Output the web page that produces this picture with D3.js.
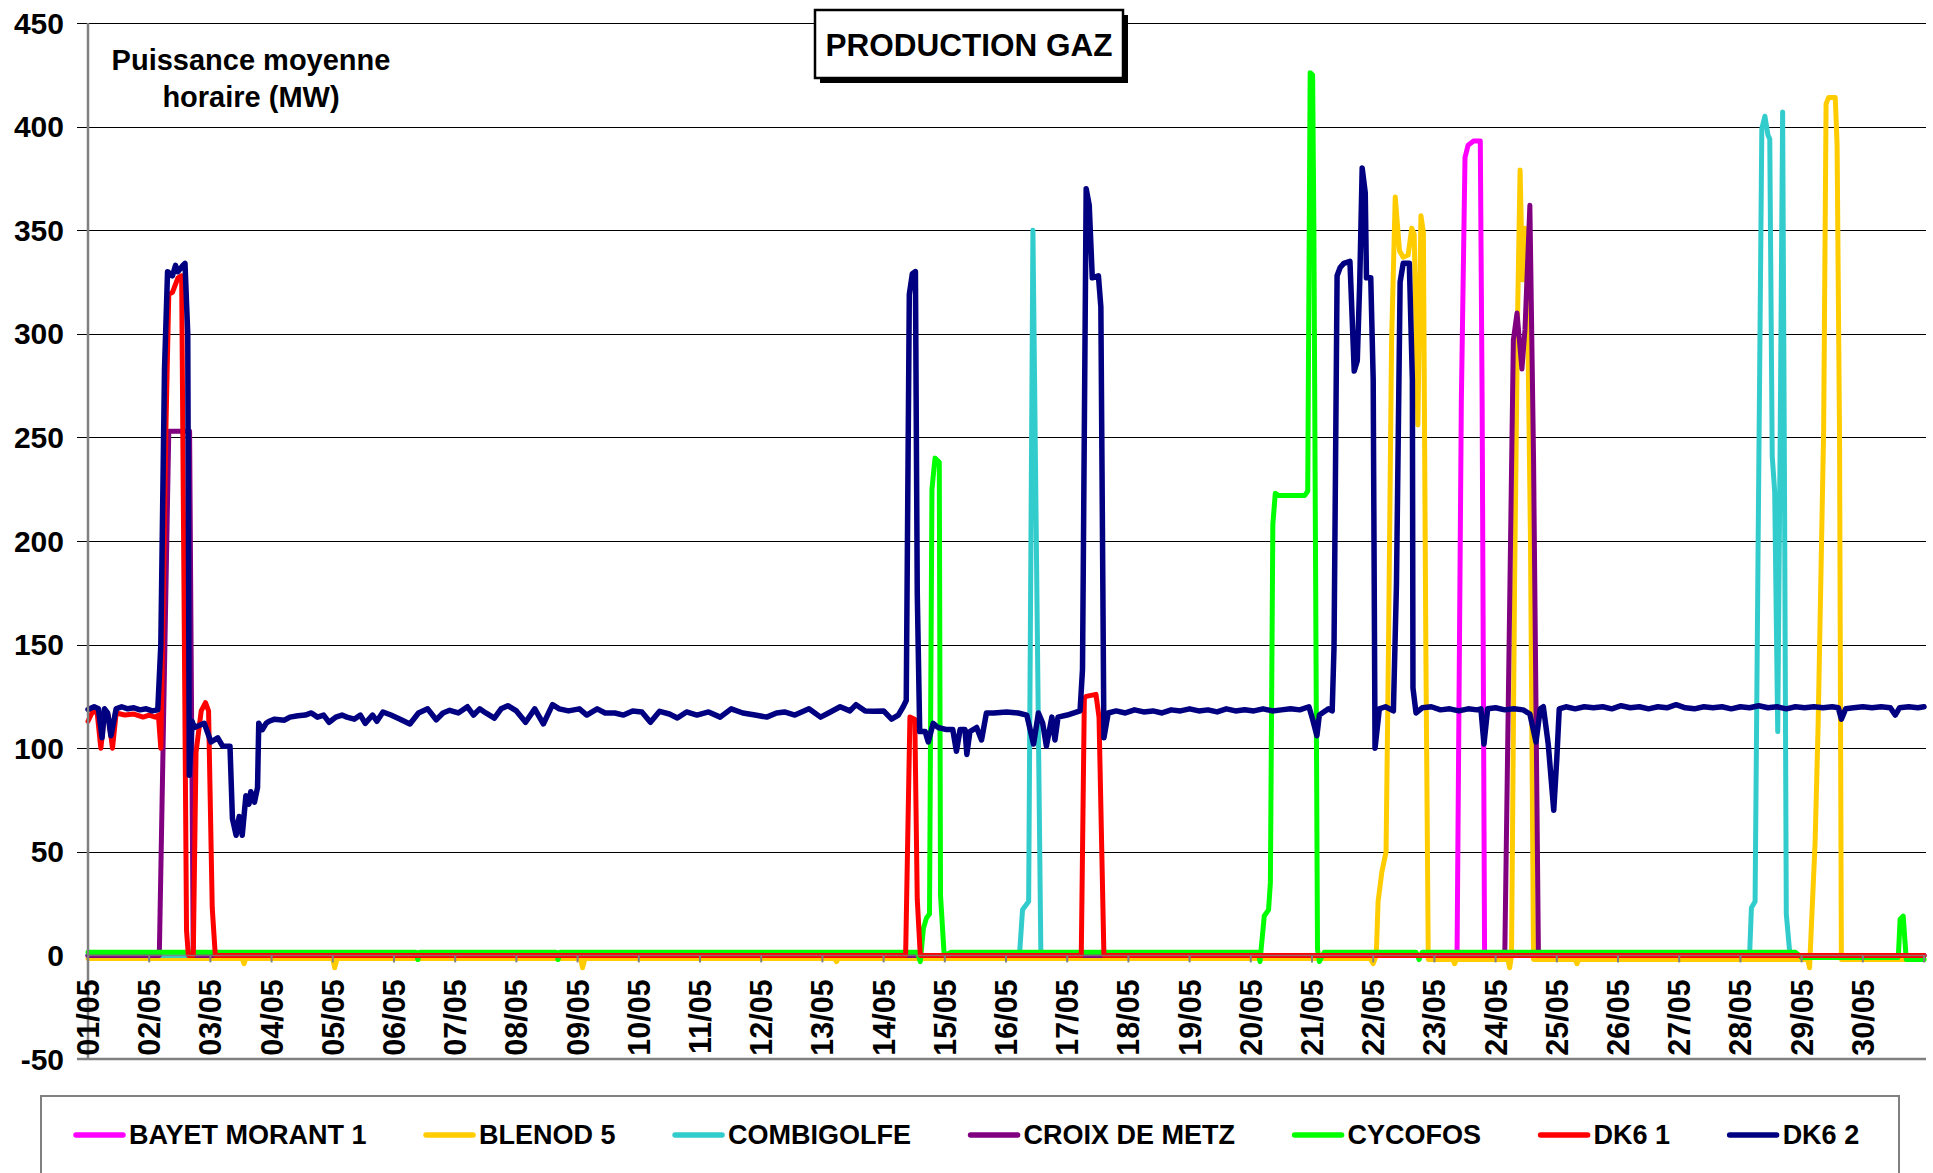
<!DOCTYPE html>
<html><head><meta charset="utf-8">
<script src="https://cdn.jsdelivr.net/npm/d3@7"></script>
<style>
html,body{margin:0;padding:0;background:#fff;}
svg{display:block;font-family:"Liberation Sans",Arial,Helvetica,sans-serif;font-weight:bold;}
</style>
</head><body>
<svg id="c" width="1933" height="1173"></svg>
<script>
// ---------- DATA (time in days since 01/05 00:00, value in MW) ----------
const dayLabels = ["01/05","02/05","03/05","04/05","05/05","06/05","07/05","08/05","09/05","10/05",
  "11/05","12/05","13/05","14/05","15/05","16/05","17/05","18/05","19/05","20/05",
  "21/05","22/05","23/05","24/05","25/05","26/05","27/05","28/05","29/05","30/05"];
const yTickValues = [-50,0,50,100,150,200,250,300,350,400,450];
const seriesNames = ["BAYET MORANT 1","BLENOD 5","COMBIGOLFE","CROIX DE METZ","CYCOFOS","DK6 1","DK6 2"];
const seriesColors = ["#FF00FF","#FFCC00","#33CCCC","#800080","#00FF00","#FF0000","#000080"];

const bayetMorant1 = [[0,0],[22.37,0],[22.44,267],[22.50,385],[22.55,391],[22.64,393],[22.75,393],[22.78,267],[22.82,0],[30,0]];

const blenod5 = [[0,-1.5],[2.52,-1.5],[2.55,-4],[2.58,-1.5],[4.0,-1.5],[4.03,-6],[4.07,-1.5],[8.05,-1.5],[8.08,-6],[8.12,-1.5],
  [12.2,-1.5],[12.23,-3],[12.26,-1.5],[20.95,-1.5],[21.0,-4],[21.05,0],[21.08,26],[21.14,40],[21.21,50],[21.25,149],[21.30,296],[21.36,366],
  [21.43,340],[21.49,337],[21.57,338],[21.63,351],[21.67,348],[21.73,256],[21.78,357],[21.82,349],[21.86,149],[21.90,-2],
  [22.3,-2],[22.33,-4],[22.36,-2],[23.2,-2],[23.23,-6],[23.26,0],[23.31,179],[23.36,310],[23.40,379],[23.44,326],[23.48,351],
  [23.52,318],[23.57,200],[23.62,-2],[24.3,-2],[24.33,-4],[24.36,-2],[28.1,-2],[28.13,-6],[28.22,54],[28.27,111],[28.36,253],
  [28.40,411],[28.44,414],[28.55,414],[28.58,391],[28.62,250],[28.65,-2],[30,-2]];

const combigolfe = [[0,0],[15.22,0],[15.27,22],[15.37,26],[15.44,350],[15.57,0],[27.15,0],[27.18,23],[27.24,26],[27.29,200],
  [27.35,399],[27.40,405],[27.45,396],[27.48,394],[27.52,241],[27.56,224],[27.61,108],[27.65,250],[27.69,407],[27.72,230],
  [27.75,20],[27.81,0],[30,0]];

const croixDeMetz = [[0,0],[1.165,0],[1.32,253],[1.66,253],[1.72,0],[23.15,0],[23.29,297],[23.35,310],[23.43,283],[23.48,302],
  [23.56,362],[23.62,240],[23.70,0],[30,0]];

const cycofos = [[0,1.5],[5.36,1.5],[5.39,-2],[5.42,1.5],[7.65,1.5],[7.68,-2],[7.71,1.5],[13.55,1.5],[13.6,-3],[13.65,13],
  [13.70,18],[13.75,20],[13.79,225],[13.84,240],[13.91,238],[13.93,29],[13.99,0],[14.1,1.5],[19.12,1.5],[19.15,-3],[19.22,19],
  [19.29,22],[19.32,35],[19.36,208],[19.40,223],[19.45,222],[19.88,222],[19.93,224],[19.97,426],[20.01,425],[20.03,354],
  [20.09,3],[20.12,-3],[20.2,1.5],[21.7,1.5],[21.75,-2],[21.8,1.5],[27.9,1.5],[28.0,-1],[29.58,-1],[29.61,17.5],[29.66,19],
  [29.71,-2],[30,-2]];

const dk61 = [[0,113],[0.08,118],[0.15,117],[0.21,100],[0.27,117],[0.33,116],[0.40,100],[0.46,117],[0.6,116],[0.75,116.5],
  [0.9,115],[1.0,116],[1.1,115],[1.15,116],[1.19,100],[1.27,250],[1.32,319],[1.38,320],[1.47,327],[1.53,328],[1.61,12],
  [1.64,0],[1.72,0],[1.765,98],[1.85,118],[1.92,122],[1.97,118],[2.03,23],[2.08,0],[13.36,0],[13.43,115],[13.51,114],
  [13.55,27],[13.6,0],[16.23,0],[16.28,124],[16.31,125],[16.47,126],[16.52,115],[16.6,0],[30,0]];

const dk62 = [[0,118.7],[0.1,120],[0.17,119],[0.23,105],[0.27,119],[0.32,117],[0.375,106],[0.46,119],[0.55,120],[0.65,119],
  [0.75,119.5],[0.85,118.5],[0.95,119],[1.05,118],[1.14,118.5],[1.19,150],[1.25,283],[1.30,330],[1.38,328],[1.43,333],
  [1.47,330],[1.55,333],[1.585,334],[1.63,300],[1.655,87],[1.70,113],[1.74,110],[1.90,112],[2.01,103],[2.12,105],[2.20,101],
  [2.32,101],[2.36,66],[2.42,58],[2.47,67],[2.52,58],[2.58,77],[2.63,73],[2.66,79],[2.72,74],[2.77,81],[2.79,112],[2.85,109],
  [2.91,112],[2.96,113],[3.05,114],[3.21,113.5],[3.3,115],[3.43,115.7],[3.55,116],[3.65,117],[3.75,115],[3.85,116],[3.94,112.5],
  [4.05,115],[4.15,116],[4.23,115],[4.35,114],[4.45,116],[4.53,112],[4.65,116],[4.72,113],[4.82,117.5],[4.95,116],[5.1,114],
  [5.26,111.7],[5.4,117],[5.55,119],[5.69,113.7],[5.8,117],[5.91,118.3],[6.05,117],[6.2,120],[6.3,116],[6.4,119],[6.5,117],
  [6.64,114.5],[6.75,119],[6.86,120.5],[7.0,118],[7.15,112.5],[7.3,119],[7.44,111.7],[7.59,121],[7.7,119],[7.85,118],[8.03,119],
  [8.15,116],[8.32,119],[8.45,117],[8.61,117],[8.75,116],[8.9,118],[9.05,117.5],[9.19,112.5],[9.34,117.8],[9.5,116.5],
  [9.63,114.6],[9.78,117.5],[9.95,116],[10.14,117.5],[10.33,115],[10.51,119],[10.7,117],[10.9,116],[11.09,115],[11.25,117],
  [11.38,117.5],[11.55,116],[11.78,119],[11.97,115],[12.1,117],[12.29,120],[12.45,118],[12.55,121],[12.7,118],[12.84,117.8],
  [13.0,118],[13.13,114],[13.24,116],[13.32,120],[13.37,123],[13.42,319],[13.47,329],[13.52,330],[13.55,175],[13.59,108],
  [13.68,108],[13.73,103],[13.81,112],[13.89,110],[14.03,109],[14.13,109],[14.19,98.5],[14.25,109],[14.33,109],[14.36,97],
  [14.41,108],[14.52,110],[14.60,104],[14.68,117],[14.8,117],[15.01,117.5],[15.2,117],[15.34,116],[15.45,102],[15.53,117],
  [15.6,112],[15.66,101],[15.75,115],[15.80,104],[15.85,115],[16.0,116],[16.21,118],[16.25,138],[16.31,370],[16.36,362],
  [16.41,327],[16.51,328],[16.55,313],[16.60,105],[16.67,117],[16.8,118],[16.95,117],[17.1,118.5],[17.25,117.5],[17.4,118],
  [17.55,117],[17.7,118.5],[17.85,118],[18.0,119],[18.15,118],[18.3,118.5],[18.45,117.5],[18.6,119],[18.75,118],[18.9,118.6],
  [19.05,118],[19.2,119],[19.35,118],[19.5,118.5],[19.65,119],[19.8,118.5],[19.95,120],[20.01,114],[20.08,106],[20.12,116],
  [20.27,119],[20.33,118],[20.36,149],[20.41,328],[20.46,332],[20.52,334],[20.62,335],[20.69,282],[20.74,287],[20.78,325],
  [20.82,380],[20.87,368],[20.89,327],[20.96,327],[21.0,278],[21.03,100],[21.1,119],[21.2,120],[21.33,118],[21.38,179],
  [21.44,325],[21.49,334],[21.59,334],[21.64,278],[21.65,129],[21.70,117],[21.8,119.5],[21.95,120],[22.1,118.5],[22.25,119],
  [22.4,118],[22.55,119],[22.7,118.5],[22.76,119],[22.81,102],[22.87,119],[23.0,119.5],[23.15,118.5],[23.3,119],[23.45,118.5],
  [23.56,116.5],[23.66,103],[23.73,119],[23.78,120],[23.86,102],[23.95,70],[24.0,95],[24.04,119],[24.15,120],[24.3,119],
  [24.45,120],[24.6,119.5],[24.75,120],[24.9,119],[25.05,120.5],[25.2,119.5],[25.35,120],[25.5,119],[25.65,120],[25.8,119.5],
  [25.95,121],[26.1,119.5],[26.25,119],[26.4,120],[26.55,119.5],[26.7,120],[26.85,119],[27.0,120],[27.15,119.5],[27.3,120.5],
  [27.45,119.5],[27.6,120],[27.75,119],[27.9,120],[28.05,119.5],[28.2,120],[28.35,119.5],[28.5,120],[28.6,119.5],[28.65,114],
  [28.72,119],[28.85,119.5],[29.0,120],[29.15,119.5],[29.3,120],[29.45,119.5],[29.53,116],[29.6,119.5],[29.75,120],[29.9,119.5],
  [30,120]];

const seriesData = [bayetMorant1, blenod5, combigolfe, croixDeMetz, cycofos, dk61, dk62];

// ---------- LAYOUT ----------
const svg = d3.select("#c");
const X0 = 88, X1 = 1924, Y0 = 1059, Y1 = 23;
const x = d3.scaleLinear().domain([0, 30]).range([X0, X1]);
const y = d3.scaleLinear().domain([-50, 450]).range([Y0, Y1]);

// gridlines
svg.append("g").selectAll("line").data(yTickValues.filter(v => v !== 0 && v !== -50)).join("line")
  .attr("x1", 77).attr("x2", 1926).attr("y1", d => Math.round(y(d)) + 0.5).attr("y2", d => Math.round(y(d)) + 0.5)
  .attr("stroke", "#000").attr("stroke-width", 1);
svg.append("line").attr("x1", 77).attr("x2", 1926).attr("y1", y(-50)).attr("y2", y(-50))
  .attr("stroke", "#808080").attr("stroke-width", 2.5);

// y axis labels
svg.append("g").selectAll("text").data(yTickValues).join("text")
  .attr("x", 64).attr("y", d => y(d)).attr("text-anchor", "end").attr("dominant-baseline", "central")
  .attr("font-size", 30).attr("fill", "#000").text(d => d);

// series lines
const line = d3.line().x(d => x(d[0])).y(d => y(d[1]));
seriesData.forEach((data, i) => {
  svg.append("path").datum(data).attr("d", line).attr("fill", "none")
    .attr("stroke", seriesColors[i]).attr("stroke-width", i === 6 ? 5.5 : 5)
    .attr("stroke-linejoin", "round").attr("stroke-linecap", "round");
});

// category axis at 0
svg.append("line").attr("x1", X0).attr("x2", 1926).attr("y1", y(0)).attr("y2", y(0))
  .attr("stroke", "#808080").attr("stroke-width", 1.5).attr("opacity", 0.8);
svg.append("g").selectAll("line").data(d3.range(dayLabels.length + 1)).join("line")
  .attr("x1", d => x(d)).attr("x2", d => x(d)).attr("y1", y(0)).attr("y2", y(0) + 7)
  .attr("stroke", "#808080").attr("stroke-width", 2);

// y axis line
svg.append("line").attr("x1", X0).attr("x2", X0).attr("y1", Y1).attr("y2", Y0)
  .attr("stroke", "#808080").attr("stroke-width", 2.5);

// x labels
svg.append("g").selectAll("text").data(dayLabels).join("text")
  .attr("transform", (d, i) => `translate(${x(i)},${y(0) + 24}) rotate(-90)`)
  .attr("text-anchor", "end").attr("dominant-baseline", "central")
  .attr("font-size", 30.5).attr("fill", "#000").text(d => d);

// axis title (top-left)
["Puissance moyenne", "horaire (MW)"].forEach((s, i) => {
  svg.append("text").attr("x", 251).attr("y", 70 + i * 37).attr("text-anchor", "middle")
    .attr("font-size", 29).attr("fill", "#000").text(s);
});

// chart title box
svg.append("rect").attr("x", 820).attr("y", 15).attr("width", 308).attr("height", 68).attr("fill", "#000");
svg.append("rect").attr("x", 815).attr("y", 10).attr("width", 308).attr("height", 68)
  .attr("fill", "#fff").attr("stroke", "#000").attr("stroke-width", 2.5);
svg.append("text").attr("x", 969).attr("y", 56).attr("text-anchor", "middle")
  .attr("font-size", 31.5).attr("fill", "#000").text("PRODUCTION GAZ");

// legend
svg.append("rect").attr("x", 41).attr("y", 1096).attr("width", 1858).attr("height", 120)
  .attr("fill", "#fff").attr("stroke", "#808080").attr("stroke-width", 2);
let lx = 74;
const LY = 1135;
seriesNames.forEach((name, i) => {
  svg.append("line").attr("x1", lx + 2).attr("x2", lx + 49).attr("y1", LY).attr("y2", LY)
    .attr("stroke", seriesColors[i]).attr("stroke-width", 5.5).attr("stroke-linecap", "round");
  const t = svg.append("text").attr("x", lx + 55).attr("y", LY).attr("dominant-baseline", "central")
    .attr("font-size", 27).attr("fill", "#000").text(name);
  const w = t.node().getComputedTextLength();
  lx = lx + 55 + w + 57.5;
});
</script>
</body></html>
